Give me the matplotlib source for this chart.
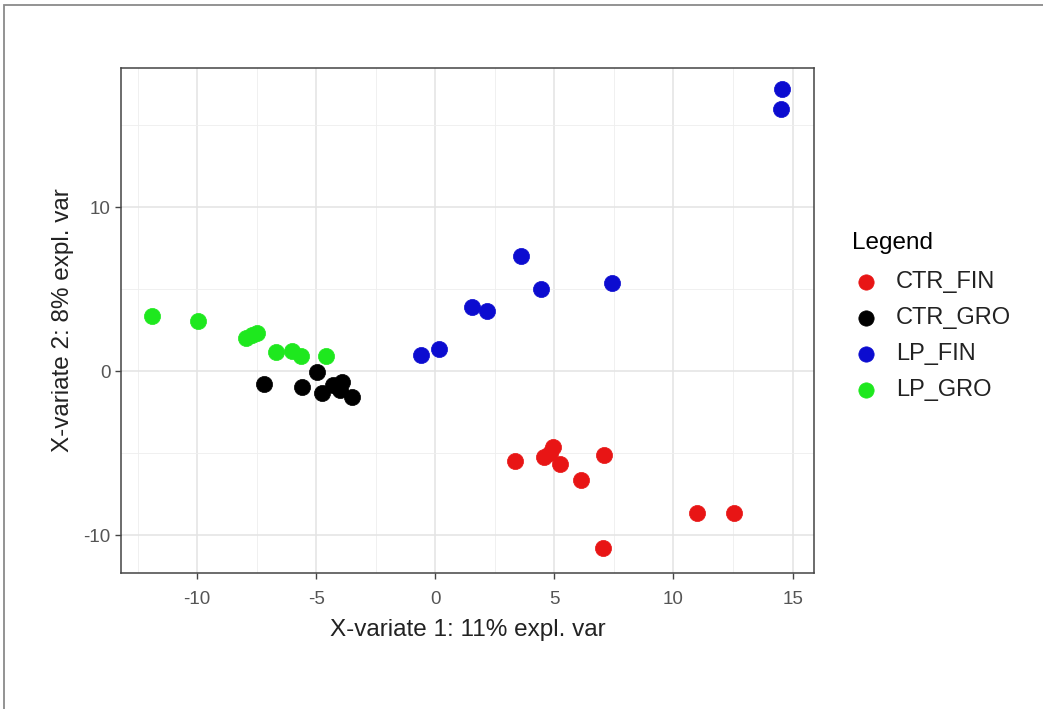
import matplotlib.pyplot as plt
from matplotlib.patches import Rectangle

plt.rcParams['font.family'] = ['Liberation Sans', 'DejaVu Sans']
plt.rcParams['axes.unicode_minus'] = False

# component scores
groups = ['CTR_FIN', 'CTR_GRO', 'LP_FIN', 'LP_GRO']
colors = ['#e81515', '#000000', '#0c0cd0', '#1ee81e']

ctr_fin_x = [3.35, 4.55, 4.95, 4.8, 5.25, 7.1, 6.1, 11.0, 12.55, 7.05]
ctr_fin_y = [-5.45, -5.25, -4.6, -5.0, -5.65, -5.1, -6.65, -8.65, -8.65, -10.8]

ctr_gro_x = [-7.2, -5.6, -4.95, -4.75, -4.3, -3.9, -4.0, -3.5]
ctr_gro_y = [-0.75, -0.95, -0.05, -1.3, -0.85, -0.65, -1.15, -1.55]

lp_fin_x = [14.55, 14.5, 3.6, 4.45, 7.4, 1.55, 2.15, -0.6, 0.15]
lp_fin_y = [17.2, 16.0, 7.05, 5.0, 5.4, 3.9, 3.65, 1.0, 1.35]

lp_gro_x = [-11.9, -9.95, -7.95, -7.5, -7.7, -6.7, -6.0, -5.65, -4.6]
lp_gro_y = [3.35, 3.05, 2.05, 2.35, 2.2, 1.15, 1.25, 0.95, 0.95]

xs = [ctr_fin_x, ctr_gro_x, lp_fin_x, lp_gro_x]
ys = [ctr_fin_y, ctr_gro_y, lp_fin_y, lp_gro_y]

fig = plt.figure(figsize=(10.43, 7.09), dpi=100)
# outer frame of the screenshot
fig.patches.append(Rectangle((4 / 1043, -0.01), 1.02, (709 - 5) / 709 + 0.01,
                             transform=fig.transFigure, fill=False,
                             edgecolor='#8a8a8a', linewidth=1.3))

ax = fig.add_axes([121 / 1043, 136 / 709, 693 / 1043, 505 / 709])

for gx, gy, c, g in zip(xs, ys, colors, groups):
    ax.scatter(gx, gy, s=135, color=c, edgecolor=c, linewidth=0.5, label=g, zorder=3)

ax.set_xlim(-13.2, 15.9)
ax.set_ylim(-12.3, 18.5)
ax.set_xticks([-10, -5, 0, 5, 10, 15])
ax.set_yticks([-10, 0, 10])
ax.set_xticks([-12.5, -7.5, -2.5, 2.5, 7.5, 12.5], minor=True)
ax.set_yticks([-5, 5, 15], minor=True)
ax.grid(True, which='major', color='#e3e3e3', linewidth=1.1, zorder=0)
ax.grid(True, which='minor', color='#eeeeee', linewidth=0.6, zorder=0)
ax.set_axisbelow(True)
ax.tick_params(which='major', length=4, width=1, color='#444444',
               labelcolor='#555555', labelsize=13.5)
ax.tick_params(axis='x', which='major', pad=9)
ax.tick_params(axis='y', which='major', pad=3.5)
ax.tick_params(which='minor', length=0)
for sp in ax.spines.values():
    sp.set_color('#444444')
    sp.set_linewidth(1.1)

ax.set_xlabel('X-variate 1: 11% expl. var', fontsize=17.5, color='#222222', labelpad=8)
ax.set_ylabel('X-variate 2: 8% expl. var', fontsize=17.5, color='#222222', labelpad=7)

leg = ax.legend(loc='upper left', bbox_to_anchor=(831 / 1043, 1 - 211 / 709),
                bbox_transform=fig.transFigure, frameon=False, title='Legend',
                fontsize=17, title_fontsize=17.5, labelspacing=0.6,
                handlelength=1.2, handletextpad=0.65, markerscale=0.95,
                alignment='left')
leg._legend_box.sep = 12
for t in leg.get_texts():
    t.set_color('#222222')

fig.savefig('out.png', dpi=100)
